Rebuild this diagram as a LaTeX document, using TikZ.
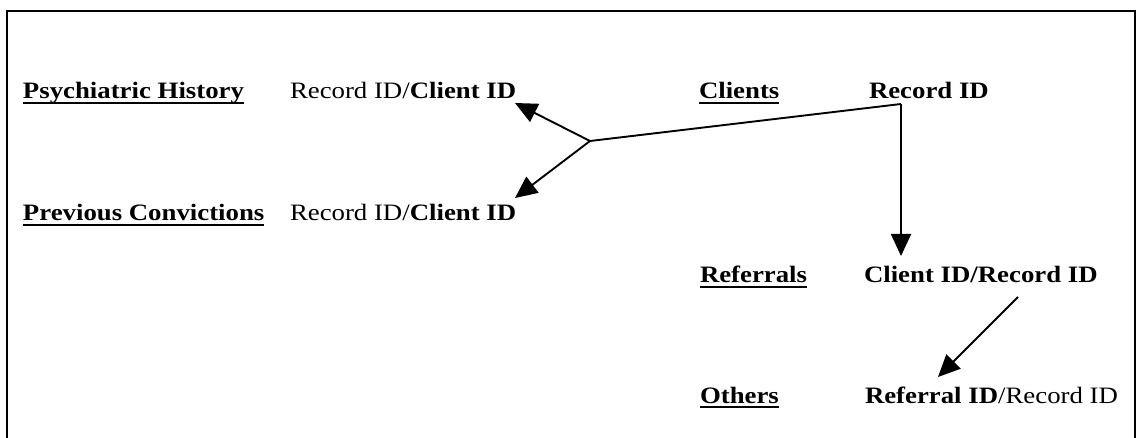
\documentclass[tikz,border=0pt]{standalone}
\usepackage{fontspec}
\setmainfont{Liberation Serif}[FakeStretch=1.14]
\usetikzlibrary{arrows.meta,calc}

\begin{document}
\begin{tikzpicture}[x=1pt,y=-1pt,
  lbl/.style={inner sep=0pt,outer sep=0pt,anchor=base west,
              font=\fontsize{23.5}{28}\selectfont},
  tbl/.style={lbl,font=\fontsize{23.5}{28}\selectfont\bfseries},
  uline/.style={line width=2pt},
  link/.style={line width=1.9pt},
  arr/.style={link,-{Triangle[length=22pt,width=20pt]}},
  frame/.style={line width=2pt}]

\useasboundingbox (0,0) rectangle (1140,438);

% open frame (bottom edge lies below the visible area)
\draw[frame] (7,438) -- (7,11) -- (1135,11) -- (1135,438);

% table names
\node[tbl] (psych)  at (23,99)  {Psychiatric History};
\node[tbl] (conv)   at (23,221) {Previous Convictions};
\node[tbl] (clients) at (699,99) {Clients};
\node[tbl] (refs)   at (700,283) {Referrals};
\node[tbl] (others) at (700,403) {Others};

% underlines of the table names
\foreach \n in {psych,conv,clients,refs,others}
  \draw[uline] ([yshift=-4pt]\n.base west) -- ([yshift=-4pt]\n.base east);

% keys
\node[lbl] (psychkey)   at (290,99)  {Record ID/\textbf{Client ID}};
\node[lbl] (convkey)    at (290,221) {Record ID/\textbf{Client ID}};
\node[tbl] (clientkey)  at (869,99)  {Record ID};
\node[tbl] (refkey)     at (864,283) {Client ID/Record ID};
\node[lbl] (otherkey)   at (865,403) {\textbf{Referral ID}/Record ID};

% connector points
\coordinate (fork)     at (590,141);
\coordinate (corner)   at (901,104);
\coordinate (psychtip) at (515,103);
\coordinate (convtip)  at (515,198);
\coordinate (reftip)   at (901,256);
\coordinate (refstart) at (1018,297);
\coordinate (othertip) at (938,377);

% relations
\draw[link] (corner) -- (fork);
\draw[arr] (fork) -- (psychtip);
\draw[arr] (fork) -- (convtip);
\draw[arr] (corner) -- (reftip);
\draw[arr] (refstart) -- (othertip);
\end{tikzpicture}
\end{document}
